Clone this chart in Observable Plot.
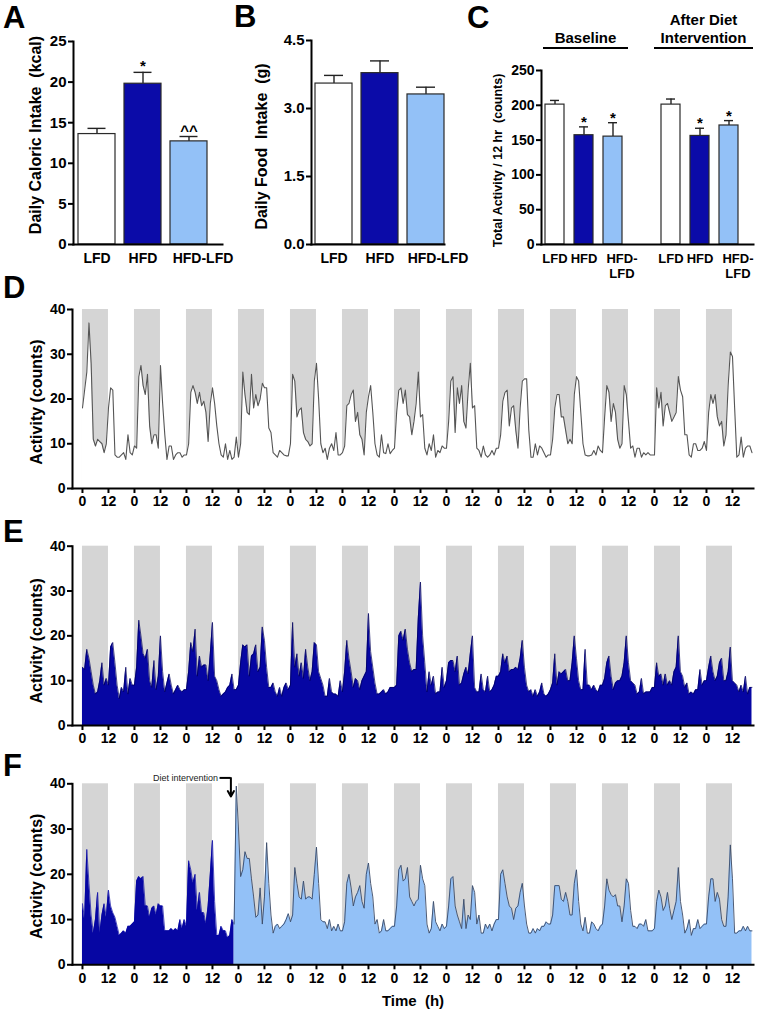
<!DOCTYPE html>
<html><head><meta charset="utf-8">
<script src="https://cdn.jsdelivr.net/npm/d3@7"></script>
<script src="https://cdn.jsdelivr.net/npm/@observablehq/plot@0.6"></script>
<style>
body{margin:0;background:#fff;}
#fig{position:relative;width:758px;height:1010px;font-family:"Liberation Sans",Arial,sans-serif;font-weight:bold;color:#000;overflow:hidden;background:#fff}
.panel{position:absolute}
.letter{position:absolute;font-size:31px;font-weight:bold;line-height:1}
.hdr{position:absolute;font-size:15px;text-align:center;line-height:18px;white-space:nowrap}
.uline{position:absolute;height:2px;background:#000}
</style></head><body><div id="fig"></div>
<script>
// ---------- data ----------
const groups = ["LFD", "HFD", "HFD-LFD"];
const groupColors = ["#ffffff", "#0b0ba8", "#93c1f7"];

const caloricMean = [13.6, 19.8, 12.7];
const caloricSEM = [0.7, 1.4, 0.6];
const caloricSig = ["", "*", "^^"];

const foodMean = [3.55, 3.78, 3.31];
const foodSEM = [0.18, 0.27, 0.16];
const foodSig = ["", "", ""];

const activityKeys = ["b-LFD", "b-HFD", "b-HFD-LFD", "gap", "a-LFD", "a-HFD", "a-HFD-LFD"];
const activityLabels = ["LFD", "HFD", "HFD-\nLFD", "", "LFD", "HFD", "HFD-\nLFD"];
const activityColors = ["#ffffff", "#0b0ba8", "#93c1f7", null, "#ffffff", "#0b0ba8", "#93c1f7"];
const activityMean = [201, 157, 155, null, 201, 156, 171];
const activitySEM = [6, 12, 20, null, 8, 11, 7];
const activitySig = ["", "*", "*", "", "", "*", "*"];

const darkStarts = [0, 24, 48, 72, 96, 120, 144, 168, 192, 216, 240, 264, 288];
const hourTicks = [0, 12, 24, 36, 48, 60, 72, 84, 96, 108, 120, 132, 144, 156, 168, 180, 192, 204, 216, 228, 240, 252, 264, 276, 288, 300];

// hourly activity (counts), LFD mice
const lfdActivity = [
 18,22,26,37,28,11,9.5,11,10.5,10,8,10,18,22.5,22,7.5,7,7,7.5,8,6.5,12,8,7.5,
 9.5,9,25,27.5,23,21,25.5,14,10,12,12,9,27.5,19,12,6.5,9.5,9.5,6.5,7.5,8,8,7,7.5,
 7.5,10,21.5,23,21.5,19,21.5,18.5,19.5,17,10.5,19,22.5,19,14,10,7.5,7,10,6.5,8.5,6.5,7,11.5,
 7,10,26,21,17,16.5,25.5,18,21,18.5,20,23.5,22.5,22.5,13.5,12.5,8,7.5,7,8.5,8,7.5,7.3,7.3,
 10,25.5,24,16,17.5,18,12.5,11,10.5,9.5,10,24,28,20,10,8,9,6.5,9,10,8.5,12.5,7.5,7.5,
 8,9.5,18.5,19,21,22,15,17,12,11,7.5,17,20.5,23,17,10,7.5,7,12,8,7.8,10,7.8,8.5,
 9,17,22,22.5,19,22,16.5,16,12,15,19,26,16,16.5,9,7.5,10,8.5,12,7,8.5,8,9.5,9,
 9,15,24,25,12.5,22.5,19,23,15,13.5,22,28,18,18.5,9,8.5,7,9.5,7.5,7,7.5,8.5,7.5,9,
 9,12,19.5,21.5,22,14,18,18.5,13,9,18,24,24.5,24.5,13,7,7,10,7.5,9.5,9,8,7,7.5,
 7.5,11,18,21,21,16,16,13,10,11,10,21,25,24,17,10,7.5,7.3,7.3,7.5,8.5,7.5,9.5,8.5,
 8,16,23,21.5,15,19,17,11,9,10,23,21,15,9,9.5,7,9,9,7,8,7.5,8,7.5,7.5,
 7.5,22.5,18,21.5,14,18.5,19,17,15,16,17,25,22,20.5,12,12,7.5,7,10,10,8.5,8.5,9,10.5,
 8.5,17,21,19,21,16,14,15,9.5,12,23,30.5,29.5,18,7,7.5,11.5,7,9,9.5,9.5,8
];
// hourly activity (counts), HFD mice
const hfdActivity = [
 13,12.5,17,15,12,9,7,7.5,10,14,9,10.5,9,17.5,18.5,14,9,6,8.5,7.5,13,7,10.5,9,
 9,13,23.5,20,16,15,17,10,8.5,14.5,8,11,20,12,7.5,9.5,11.5,9,7,8,9,8,7.5,8,
 8,12,18.5,16.5,21.5,11,15.5,13,13.5,13.5,10,16,23,11,10,8,6.5,7,7.5,8.5,9,11.5,8,8,
 9,14,18,17.5,18,11,15.5,16,18,12,13,22,19,13,8.5,8.5,9.5,7.5,6.5,8.5,6.5,8.5,9.5,8,
 9,23,13,16,11,14,10.5,17,13,10,12,18.5,18,12,10.5,9,6.5,6.5,10.5,7.5,7,7,6.5,10,
 7.5,12,19,15,12,8.5,10.5,10,8,10,11,12,25,16.5,13,9.5,7,7,7.5,8,7,7.5,8.5,8.5,
 8.5,9,20,21,19,21.5,17,14,12,12.5,12.5,24,32,20,14,7.5,12,9,11,7,7.5,7.5,13,8.5,
 10,14,14.5,14.5,12,15.5,9,9.5,11.5,13,11.5,16,20,8.5,7.5,7.5,11.5,8,7.5,11,7.5,8,9,11,
 11,12,16,14,15.5,12,12.5,12.5,13,12.5,15,19,13,9,7.5,8,6.5,8,6.5,7.5,9.5,7,6.5,7,
 8,9.5,16,9,12,11.5,12,12.5,10,10,14,20,15,10,8,8,17,9,9,8,9,8,7.5,9,
 9,10.5,14,15.5,11,8,9.5,10,10,11,14,20,14,10,9.5,9,7,7.5,10.5,7,7.5,7.5,7.5,8.5,
 8.5,14,11,11.5,9,11.5,9,10,9,12,13,20,12,11,8.5,9.5,7,7.5,7,8,8,12.5,9,10,
 10,13,15.5,12,10,11,14,15,10,10,12,17.5,10,9.5,9,7.5,9,7.5,11,7,8.5,8.5
];
// hourly activity (counts), HFD then HFD-LFD after the diet intervention
const switchActivity = [
 13.5,10,25.5,18,11,7,10,16,7,11,13.5,10.5,16.5,13,11.5,10.5,8.5,6.5,7,7.5,7,8.5,8.5,9,
 9.5,18.5,19.5,19,19.5,13,13,10.5,12.5,13,11,13.5,13,13,7.5,7.5,7.5,8,7.5,8,7.5,10,8,10,
 8.5,23,21,18,20,12,16,11.5,11.5,9,13,20,27.5,14,6.5,6.5,8.5,7.5,7.5,6,6.5,10,9,39.5,
 30,19.5,21,25,23.5,23.5,19,15,10.5,11,17,9,15,27,18,11,7,8.5,9,8,8.5,9,10,11.3,
 9.5,11,21.5,18,15,14.5,18.5,14.5,15,15,14.5,20,26,18,10,9.5,9.5,8,10,7.5,8.5,7.5,9,7.5,
 7.5,9.5,18,20,17,13,15,16,17.5,14,12.5,20,22.5,18,15,9,10,7,7.5,10,7.5,7.5,8,8.5,
 8.5,13,21,22,18.5,19,21.5,15,14,13,14,14.5,22,19,17.5,9,7,8,14,9.5,8.5,7.5,9,8,
 8.5,13,19,19.5,13,11,9.5,8,14.5,8,11,10,17.5,16,9,11,7,7,9,8,9,7.5,9,10,
 10,20,21,18,15,13,12.5,10,12.5,13,16,18,13,9,7,7,8,7,8,7.5,8.5,8.5,9.5,9,
 9,11,17.5,17.5,17.5,14.5,14,16,14,11,11,18,21,14,9,7.5,10.5,7,7,9.5,9,8,7.5,8.5,
 9,13,19,16.5,15.5,15,15.5,13,13,9.5,13,19,18,12,8.5,8.5,8,9,9,8.5,10,7.5,7.5,7.5,
 8,14,16.5,15,12,13,16,12.5,10,12,14,21.5,14,11,7,8,10,6.5,8,8,10,8,8.5,9,
 9,15,19,19,14,16,14.5,10,8.5,8.5,15,26.5,19,7,7,7.5,7.5,8.5,7.5,8.5,7.5,7.5
];
const interventionHour = 70;
const dietArrow = {hour: 68.5, top: 41.3, tip: 37.2, text: "Diet intervention"};

// ---------- helpers ----------
const FONT = "'Liberation Sans', Arial, Helvetica, sans-serif";
const baseStyle = {fontFamily: FONT, fontWeight: "bold", overflow: "visible", background: "transparent", color: "#000"};
const fig = document.getElementById("fig");
function place(node, left, top) {
  const d = document.createElement("div");
  d.className = "panel"; d.style.left = left + "px"; d.style.top = top + "px";
  d.appendChild(node); fig.appendChild(d);
}
function addDiv(cls, text, css) {
  const d = document.createElement("div");
  d.className = cls; d.textContent = text;
  Object.assign(d.style, css); fig.appendChild(d);
}
function yTitle(text, dx, dy, size) {
  return Plot.text([text], {frameAnchor: "left", rotate: -90, dx, dy, fontSize: size, textAnchor: "middle", lineAnchor: "middle"});
}

function barPanel(o) {
  const rows = o.keys.map((k, i) => ({k, m: o.mean[i], e: o.sem[i], c: o.colors[i], s: o.sig[i], l: o.labels[i]}))
    .filter(r => r.m != null);
  const plain = rows.filter(r => !r.l.startsWith("HFD-"));
  const combo = rows.filter(r => r.l.startsWith("HFD-"));
  const labelOpts = {x: "k", text: "l", frameAnchor: "bottom", dy: o.xPad, lineAnchor: "top", fontSize: o.xFont, lineHeight: 1.2};
  return Plot.plot({
    width: o.width, height: o.height,
    marginLeft: o.ml, marginRight: o.mr, marginTop: o.mt, marginBottom: o.mb,
    style: baseStyle,
    x: {domain: o.keys, range: o.xRange, paddingInner: o.pi, paddingOuter: 0, axis: null},
    y: {domain: o.yDomain},
    color: {type: "identity"},
    marks: [
      Plot.ruleX(rows, {x: "k", y1: "m", y2: d => d.m + d.e, stroke: "#222", strokeWidth: 1.4}),
      Plot.tickY(rows, {x: "k", y: d => d.m + d.e, stroke: "#222", strokeWidth: 1.4, insetLeft: o.cap, insetRight: o.cap}),
      Plot.barY(rows, {x: "k", y: "m", fill: "c", stroke: "#2a2a2a", strokeWidth: 1.2}),
      Plot.text(rows, {x: "k", y: d => d.m + d.e, text: "s", dy: o.sigDy, fontSize: 15, lineAnchor: "bottom"}),
      Plot.axisY({ticks: o.yTicks, tickFormat: o.yFormat, tickSize: 5, strokeWidth: 2, fontSize: o.yFont, tickPadding: 2, label: null}),
      yTitle(o.label, o.titleDx, o.titleDy, o.titleSize),
      Plot.text(plain, labelOpts),
      Plot.text(combo, {...labelOpts, dx: o.shift}),
      Plot.frame({anchor: "left", strokeWidth: 2}),
      Plot.frame({anchor: "bottom", strokeWidth: 2})
    ]
  });
}

function activityPanel(o) {
  const marks = [
    Plot.rect(darkStarts, {x1: d => d, x2: d => d + 12, y1: 0, y2: 40, fill: "#d5d5d5"})
  ];
  for (const s of o.series) {
    const rows = s.values.map((v, i) => ({h: i, v})).filter(r => r.h >= s.from && r.h <= s.to);
    marks.push(Plot.areaY(rows, {x: "h", y: "v", fill: s.fill}));
    if (s.stroke) marks.push(Plot.lineY(rows, {x: "h", y: "v", stroke: s.stroke, strokeWidth: s.strokeWidth}));
  }
  marks.push(
    Plot.axisY({ticks: [0, 10, 20, 30, 40], tickSize: 5, strokeWidth: 2, fontSize: 14, tickPadding: 2, label: null}),
    yTitle("Activity (counts)", -36, o.titleDy, 16),
    Plot.axisX({ticks: hourTicks, tickFormat: h => (h % 24 === 0 ? "0" : "12"), tickSize: 5, strokeWidth: 2,
      fontSize: 14, tickPadding: 3, label: null}),
    Plot.frame({anchor: "left", strokeWidth: 2}),
    Plot.frame({anchor: "bottom", strokeWidth: 2})
  );
  if (o.xLabel) marks.push(Plot.text([o.xLabel], {frameAnchor: "bottom", dy: 36, fontSize: 15, lineAnchor: "middle"}));
  if (o.extra) marks.push(...o.extra);
  return Plot.plot({
    width: 758, height: o.height,
    marginLeft: 72, marginRight: 5, marginTop: o.mt, marginBottom: o.mb,
    style: baseStyle,
    x: {domain: [-4.6, 309.7]},
    y: {domain: [0, 40]},
    marks
  });
}

// ---------- Panel A ----------
place(barPanel({
  keys: groups, labels: groups, mean: caloricMean, sem: caloricSEM, colors: groupColors, sig: caloricSig,
  width: 230, height: 275, ml: 73, mr: 8, mt: 41, mb: 31,
  xRange: [77, 209], pi: 0.191, cap: 9.5, sigDy: -1,
  yDomain: [0, 25], yTicks: [0, 5, 10, 15, 20, 25], yFont: 15,
  label: "Daily Caloric Intake\u00a0 (kcal)", titleDx: -38, titleDy: -8, titleSize: 16,
  xPad: 7, xFont: 14, shift: 14
}), 0, 0);

// ---------- Panel B ----------
place(barPanel({
  keys: groups, labels: groups, mean: foodMean, sem: foodSEM, colors: groupColors, sig: foodSig,
  width: 220, height: 275, ml: 71, mr: 16, mt: 40, mb: 31,
  xRange: [75, 204], pi: 0.196, cap: 9, sigDy: -1,
  yDomain: [0, 4.5], yTicks: [0, 1.5, 3, 4.5], yFormat: d3.format(".1f"), yFont: 15,
  label: "Daily Food\u00a0 Intake\u00a0 (g)", titleDx: -50, titleDy: 4, titleSize: 16,
  xPad: 7, xFont: 14, shift: 12
}), 240, 0);

// ---------- Panel C ----------
place(barPanel({
  keys: activityKeys, labels: activityLabels, mean: activityMean, sem: activitySEM, colors: activityColors, sig: activitySig,
  width: 298, height: 290, ml: 81, mr: 5, mt: 70, mb: 46,
  xRange: [85, 278], pi: 0.345, cap: 5, sigDy: 0,
  yDomain: [0, 250], yTicks: [0, 50, 100, 150, 200, 250], yFont: 14,
  label: "Total Activity / 12 hr\u00a0 (counts)", titleDx: -44, titleDy: 3, titleSize: 12.5,
  xPad: 7, xFont: 13, shift: 9
}), 460, 0);

addDiv("hdr", "Baseline", {left: "543px", width: "85px", top: "29px"});
addDiv("uline", "", {left: "543px", width: "85px", top: "47px"});
addDiv("hdr", "After Diet", {left: "654px", width: "99px", top: "11px"});
addDiv("hdr", "Intervention", {left: "654px", width: "99px", top: "29px"});
addDiv("uline", "", {left: "654px", width: "99px", top: "47px"});

// ---------- Panel D ----------
place(activityPanel({
  height: 245, mt: 39, mb: 27, titleDy: 3,
  series: [{values: lfdActivity, from: 0, to: 400, fill: "#ffffff", stroke: "#555", strokeWidth: 1.1}]
}), 0, 270);

// ---------- Panel E ----------
place(activityPanel({
  height: 245, mt: 35.7, mb: 30, titleDy: 5,
  series: [{values: hfdActivity, from: 0, to: 400, fill: "#0606a3", stroke: "#00005a", strokeWidth: 0.7}]
}), 0, 510);

// ---------- Panel F ----------
place(activityPanel({
  height: 260, mt: 33.3, mb: 45.7, titleDy: 2, xLabel: "Time\u00a0 (h)",
  series: [
    {values: switchActivity, from: 0, to: interventionHour, fill: "#0606a3", stroke: "#0606a3", strokeWidth: 0.7},
    {values: switchActivity, from: interventionHour, to: 400, fill: "#93c1f7", stroke: "#3a4a66", strokeWidth: 0.9}
  ],
  extra: [
    Plot.ruleY([dietArrow.top], {x1: dietArrow.hour - 5, x2: dietArrow.hour, strokeWidth: 2}),
    Plot.arrow([dietArrow], {x1: "hour", x2: "hour", y1: "top", y2: "tip", strokeWidth: 2, headLength: 6}),
    Plot.text([dietArrow], {x: d => d.hour - 5, y: "top", text: "text", textAnchor: "end", dx: -2, fontSize: 9, fontWeight: "normal", fill: "#222"})
  ]
}), 0, 750);

// ---------- panel letters ----------
addDiv("letter", "A", {left: "3px", top: "2px"});
addDiv("letter", "B", {left: "234px", top: "1px"});
addDiv("letter", "C", {left: "467px", top: "2px"});
addDiv("letter", "D", {left: "3px", top: "272px"});
addDiv("letter", "E", {left: "3px", top: "516px"});
addDiv("letter", "F", {left: "3px", top: "750px"});
</script>
</body></html>
